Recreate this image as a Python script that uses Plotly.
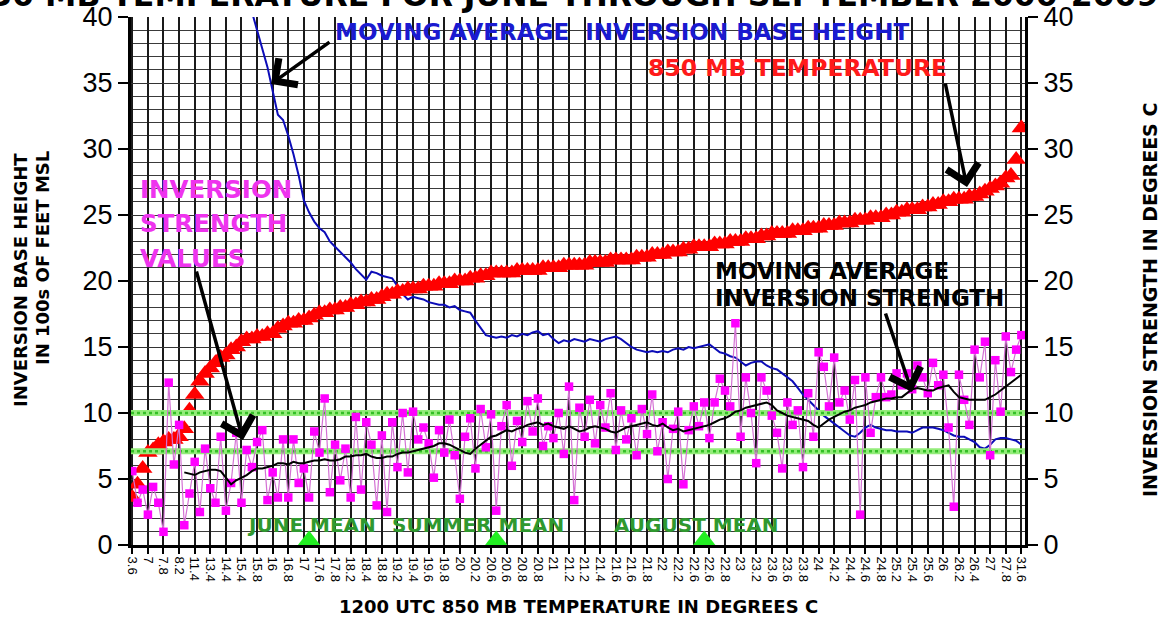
import plotly.graph_objects as go

# ---- data ----
# sorted 1200 UTC 850 mb temperatures (deg C), one per plotted case
temps = [
    3.6, 4.6, 5.8, 7.0, 7.2, 7.6, 7.8, 8.0, 8.0, 8.2, 8.8, 10.2,
    11.4, 12.4, 13.0, 13.4, 13.8, 14.2, 14.4, 14.8, 15.0, 15.4, 15.6, 15.6,
    15.8, 15.8, 16.0, 16.0, 16.4, 16.6, 16.8, 16.8, 17.0, 17.0, 17.2, 17.4,
    17.6, 17.6, 17.8, 17.8, 18.0, 18.0, 18.2, 18.2, 18.4, 18.4, 18.6, 18.6,
    18.8, 19.0, 19.0, 19.2, 19.2, 19.4, 19.4, 19.4, 19.6, 19.6, 19.6, 19.8,
    19.8, 19.8, 20.0, 20.0, 20.0, 20.2, 20.2, 20.4, 20.4, 20.6, 20.6, 20.6,
    20.6, 20.6, 20.8, 20.8, 20.8, 20.8, 20.8, 21.0, 21.0, 21.0, 21.0, 21.2,
    21.2, 21.2, 21.2, 21.2, 21.4, 21.4, 21.4, 21.4, 21.6, 21.6, 21.6, 21.6,
    21.6, 21.8, 21.8, 21.8, 22.0, 22.0, 22.0, 22.2, 22.2, 22.2, 22.4, 22.4,
    22.6, 22.6, 22.6, 22.6, 22.8, 22.8, 22.8, 23.0, 23.0, 23.0, 23.2, 23.2,
    23.2, 23.4, 23.4, 23.6, 23.6, 23.6, 23.6, 23.8, 23.8, 23.8, 24.0, 24.0,
    24.0, 24.2, 24.2, 24.2, 24.4, 24.4, 24.4, 24.6, 24.6, 24.6, 24.8, 24.8,
    24.8, 25.0, 25.0, 25.2, 25.2, 25.4, 25.4, 25.4, 25.6, 25.6, 25.8, 25.8,
    26.0, 26.0, 26.2, 26.2, 26.2, 26.4, 26.4, 26.6, 26.8, 27.0, 27.2, 27.4,
    27.8, 28.0, 29.2, 31.6,
]

# inversion strength values (deg C)
strength = [
    5.6, 3.2, 4.2, 2.3, 4.4, 3.2, 1.0, 12.3, 6.1, 9.1,
    1.5, 3.9, 6.3, 2.5, 7.3, 4.3, 3.2, 8.2, 2.6, 4.7,
    8.5, 3.2, 7.2, 5.9, 7.8, 8.7, 3.4, 5.5, 3.6, 8.0,
    3.6, 8.0, 4.7, 5.8, 3.6, 8.6, 7.0, 11.1, 4.0, 7.6,
    4.9, 7.3, 3.6, 9.7, 4.2, 9.3, 7.6, 3.0, 8.3, 2.5,
    9.3, 5.9, 10.0, 5.5, 10.1, 8.0, 8.9, 7.7, 5.1, 8.7,
    7.0, 9.5, 6.8, 3.5, 8.2, 9.6, 5.8, 10.3, 7.4, 9.9,
    2.6, 9.0, 10.6, 6.0, 9.4, 7.8, 10.9, 8.6, 11.1, 7.5,
    9.0, 8.1, 10.0, 6.9, 12.0, 3.4, 10.4, 8.2, 11.0, 7.7,
    10.6, 8.9, 11.5, 7.2, 10.2, 8.0, 9.6, 6.8, 10.3, 8.4,
    11.4, 7.1, 9.3, 5.0, 8.8, 10.1, 4.6, 8.7, 10.5, 9.0,
    10.8, 8.1, 10.8, 12.6, 11.7, 10.5, 16.8, 8.2, 12.7, 10.0,
    6.2, 12.7, 11.7, 9.8, 8.5, 5.8, 10.8, 9.1, 10.2, 5.9,
    11.5, 8.2, 14.6, 13.5, 10.5, 14.2, 10.8, 11.7, 9.5, 12.5,
    2.3, 12.7, 8.5, 11.2, 12.7, 11.2, 11.4, 13.0, 12.1, 13.0,
    11.8, 13.6, 12.7, 11.5, 13.8, 12.1, 12.9, 8.9, 2.9, 12.9,
    11.0, 9.1, 14.8, 12.7, 15.4, 6.8, 14.0, 10.1, 15.8, 13.1,
    14.8, 15.9,
]

# moving average inversion strength (deg C)
strength_ma = [None] * 10 + [
    5.5, 5.4, 5.3, 5.5, 5.6, 5.7, 5.7, 5.6, 5.1, 4.6,
    4.9, 5.1, 5.3, 5.6, 5.8, 5.8, 5.9, 6.0, 6.2, 6.2,
    6.1, 6.3, 6.2, 6.2, 6.3, 6.4, 6.4, 6.5, 6.4, 6.4,
    6.5, 6.7, 6.7, 6.8, 6.8, 6.9, 6.7, 6.6, 6.6, 6.7,
    6.7, 6.9, 7.0, 7.0, 7.1, 7.2, 7.3, 7.4, 7.5, 7.7,
    7.7, 7.6, 7.4, 7.2, 7.0, 6.9, 7.3, 7.6, 7.9, 8.2,
    8.3, 8.5, 8.7, 8.6, 8.8, 8.9, 9.1, 9.2, 9.3, 9.1,
    9.2, 9.0, 8.9, 8.8, 9.0, 8.8, 8.6, 8.7, 8.9, 9.0,
    8.9, 8.8, 8.6, 8.5, 8.7, 8.9, 9.0, 9.1, 9.2, 9.3,
    9.1, 9.0, 9.2, 8.9, 8.7, 8.8, 8.6, 8.7, 8.8, 8.9,
    9.0, 9.1, 9.3, 9.5, 9.6, 9.8, 10.1, 10.2, 10.4, 10.5,
    10.6, 10.7, 10.8, 10.6, 10.2, 10.0, 9.8, 9.7, 9.6, 9.5,
    9.4, 9.1, 8.9, 9.2, 9.5, 9.7, 9.9, 10.1, 10.2, 10.4,
    10.5, 10.6, 10.8, 10.9, 11.0, 11.1, 11.1, 11.2, 11.2, 11.5,
    11.8, 11.9, 11.8, 11.7, 11.7, 11.9, 12.0, 12.1, 11.6, 11.2,
    11.1, 11.0, 11.0, 11.0, 11.0, 11.2, 11.4, 11.7, 12.0, 12.3,
    12.6, 12.9,
]

# moving average inversion base height (100s of feet MSL)
base_ma = [None] * 22 + [
    41.8, 40.4, 39.1, 37.8, 36.2, 34.4, 32.6, 32.2,
    31.0, 29.6, 28.0, 26.1, 25.2, 24.5, 24.0, 23.7, 23.0, 22.6,
    22.2, 21.8, 21.4, 20.9, 20.5, 20.1, 20.7, 20.6, 20.4, 20.3,
    20.2, 19.6, 19.0, 18.6, 18.8, 18.7, 18.6, 18.4, 18.3, 18.2,
    18.2, 18.0, 18.1, 17.8, 17.7, 17.6, 17.0, 16.4, 15.9, 15.8,
    15.7, 15.8, 15.7, 15.9, 15.8, 16.0, 15.9, 16.1, 16.2, 15.9,
    16.0, 15.6, 15.3, 15.5, 15.4, 15.6, 15.5, 15.4, 15.6, 15.5,
    15.4, 15.6, 15.7, 15.8, 15.6, 15.3, 15.0, 14.8, 14.7, 14.6,
    14.7, 14.6, 14.7, 14.6, 14.8, 14.9, 14.8, 15.0, 14.9, 15.0,
    15.1, 15.2, 14.9, 14.6, 14.5, 14.3, 14.2, 13.9, 13.6, 13.8,
    13.9, 13.9, 13.6, 13.4, 13.3, 13.0, 12.7, 12.4, 11.9, 11.4,
    11.0, 10.6, 10.2, 9.8, 9.5, 9.2, 8.9, 8.6, 8.3, 8.2,
    8.5, 8.9, 9.1, 8.9, 8.8, 8.7, 8.7, 8.6, 8.6, 8.6,
    8.5, 8.7, 8.9, 8.9, 8.9, 8.8, 8.7, 8.5, 8.3, 8.2,
    8.2, 8.0, 7.8, 7.4, 7.3, 7.6, 8.0, 8.1, 8.1, 8.0,
    7.9, 7.6,
]

assert len(strength) == len(temps)
assert len(strength_ma) == len(temps)
assert len(base_ma) == len(temps)

label_step = 3                      # one x label per 3 cases
thresholds = [10.0, 7.1]            # green reference lines (deg C)
mean_idx = [34, 70, 110]            # case index of the June / summer / August means
mean_names = ["JUNE MEAN", "SUMMER MEAN", "AUGUST MEAN"]

# ---- figure ----
N = len(temps)
idx = list(range(N))
tickvals = idx[::label_step]
ticktext = [f"{temps[i]:g}" for i in tickvals]

BOLD = "DejaVu Sans"
NUM = "Liberation Sans, Arial"

W, H = 1163, 619
X0, X1, Y0, Y1 = 131, 1025, 17, 545     # plot area in pixels

fig = go.Figure()
fig.add_trace(go.Scatter(
    x=idx, y=temps, yaxis="y2", mode="markers",
    marker=dict(symbol="triangle-up", size=17, color="#ff0000", line=dict(width=0)),
    hoverinfo="skip"))
for t in thresholds:
    fig.add_trace(go.Scatter(
        x=[-0.25, N - 0.3], y=[t, t], yaxis="y2", mode="lines",
        line=dict(color="#93ec7a", width=6), hoverinfo="skip"))
    fig.add_trace(go.Scatter(
        x=[-0.25, N - 0.3], y=[t, t], yaxis="y2", mode="lines",
        line=dict(color="#34bf26", width=2.5, dash="dot"), hoverinfo="skip"))
fig.add_trace(go.Scatter(
    x=idx, y=strength, yaxis="y2", mode="lines+markers",
    line=dict(color="#d472d4", width=1.2),
    marker=dict(symbol="square", size=8.5, color="#ff00ff", line=dict(width=0)),
    hoverinfo="skip"))
fig.add_trace(go.Scatter(
    x=idx, y=strength_ma, yaxis="y2", mode="lines",
    line=dict(color="#000000", width=2), hoverinfo="skip"))
fig.add_trace(go.Scatter(
    x=idx, y=base_ma, yaxis="y", mode="lines",
    line=dict(color="#0c0cb8", width=2), hoverinfo="skip"))
fig.add_trace(go.Scatter(
    x=mean_idx, y=[0.3] * len(mean_idx), yaxis="y", mode="markers",
    marker=dict(symbol="triangle-up", size=21, color="#22ee22"),
    cliponaxis=False, hoverinfo="skip"))


def px(x):
    return (x - X0) / (X1 - X0)


def py(y):
    return (Y1 - y) / (Y1 - Y0)


ann = []


def text(s, x, y, size, color, xanchor="left", angle=0):
    ann.append(dict(text=f"<b>{s}</b>", x=px(x), y=py(y), xref="paper", yref="paper",
                    xanchor=xanchor, yanchor="middle", showarrow=False, textangle=angle,
                    font=dict(family=BOLD, size=size, color=color)))


def arrow(hx, hy, tx, ty):
    ann.append(dict(text="", x=px(hx), y=py(hy), xref="paper", yref="paper",
                    ax=tx - hx, ay=ty - hy, showarrow=True, arrowhead=4,
                    arrowsize=1.8, arrowwidth=3.5, arrowcolor="#000000", standoff=0))


# chart title, mostly above the top edge as in the reference
text("INVERSION STRENGTH AND HEIGHT VS 850 MB TEMPERATURE FOR JUNE THROUGH SEPTEMBER 2000-2009",
     1160, -5, 31.5, "#000000", xanchor="right")

text("MOVING AVERAGE&nbsp;&nbsp;INVERSION BASE HEIGHT", 333, 32, 23, "#1a1ad0")
arrow(271, 84, 331, 41)
text("850 MB TEMPERATURE", 646, 68, 23.5, "#ff1a1a")
arrow(967, 187, 945, 82)
text("INVERSION", 138, 189, 24.5, "#ee33ee")
text("STRENGTH", 138, 223, 24.5, "#ee33ee")
text("VALUES", 138, 258, 24.5, "#ee33ee")
arrow(243, 440, 196, 270)
text("MOVING AVERAGE", 713, 271, 23, "#000000")
text("INVERSION STRENGTH", 713, 298, 23, "#000000")
arrow(912, 392, 885, 312)

for name, cx in zip(mean_names, [311, 478, 696]):
    text(name, cx, 525, 20, "#2f992f", xanchor="center")

# axis titles
text("INVERSION BASE HEIGHT", 20, 280, 18, "#000000", xanchor="center", angle=-90)
text("IN 100s OF FEET MSL", 42, 258, 18, "#000000", xanchor="center", angle=-90)
text("INVERSION STRENGTH IN DEGREES C", 1150, 300, 19, "#000000", xanchor="center", angle=-90)
text("1200 UTC 850 MB TEMPERATURE IN DEGREES C", 578, 606, 18, "#000000", xanchor="center")

fig.update_layout(
    width=W, height=H, autosize=False,
    margin=dict(l=X0, r=W - X1, t=Y0, b=H - Y1, pad=0, autoexpand=False),
    paper_bgcolor="white", plot_bgcolor="white",
    showlegend=False, hovermode=False,
    annotations=ann,
    xaxis=dict(
        automargin=False,
        range=[-0.25, N - 0.3], tickmode="array", tickvals=tickvals, ticktext=ticktext,
        tickangle=90, tickfont=dict(family=NUM, size=13, color="#000"),
        ticks="outside", ticklen=6, tickwidth=1.5, tickcolor="#000",
        showgrid=True, gridcolor="#1a1a1a", gridwidth=1.6,
        showline=True, linecolor="#000", linewidth=3, zeroline=False),
    yaxis=dict(
        automargin=False,
        range=[0, 40], tick0=0, dtick=5, ticklabeloverflow="allow",
        tickfont=dict(family=NUM, size=27, color="#000"),
        ticks="outside", ticklen=10, tickwidth=2, tickcolor="#000",
        showgrid=True, gridcolor="#333", gridwidth=1.2,
        minor=dict(dtick=1, showgrid=True, gridcolor="#3a3a3a", gridwidth=1, ticks=""),
        showline=True, linecolor="#000", linewidth=3, zeroline=False),
    yaxis2=dict(
        automargin=False,
        range=[0, 40], tick0=0, dtick=5, overlaying="y", side="right",
        ticklabeloverflow="allow",
        tickfont=dict(family=NUM, size=27, color="#000"),
        ticks="outside", ticklen=10, tickwidth=2, tickcolor="#000",
        showgrid=False, showline=True, linecolor="#000", linewidth=3, zeroline=False),
)

# remove the browser's default 8px page margin so the figure sits at the window corner
fig.write_html("out.html", config={"displayModeBar": False},
               post_script="document.body.style.margin='0px';")
